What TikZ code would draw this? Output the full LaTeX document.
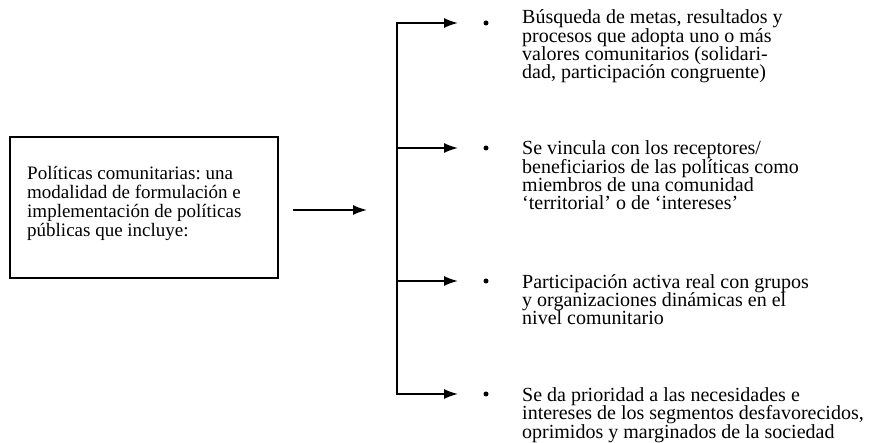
\documentclass[tikz,border=0pt]{standalone}
\usepackage{fontspec}
\setmainfont{Liberation Serif}
\usetikzlibrary{arrows.meta}
\begin{document}
\frenchspacing
\begin{tikzpicture}[x=1pt,y=-1pt,
  txt/.style={font=\fontsize{20}{18.4}\selectfont\frenchspacing, inner sep=0pt, align=left, anchor=base west},
  boxtxt/.style={font=\fontsize{19}{19}\selectfont\frenchspacing, inner sep=0pt, align=left, anchor=base west},
  conn/.style={line width=1.6pt, -{Latex[length=14pt,width=10pt]}},
  trunk/.style={line width=1.6pt},
  dot/.style={circle, fill=black, inner sep=0pt, minimum size=5pt},
  mainbox/.style={draw, line width=1.4pt, minimum width=268pt, minimum height=141pt, inner sep=0pt}]
\useasboundingbox (0,0) rectangle (870,443);
\node[mainbox] (box) at (144,207.5) {};
\node[boxtxt] (boxt) at (27,237) {Políticas comunitarias: una\\modalidad de formulación e\\implementación de políticas\\públicas que incluye:};
\coordinate (s0) at (293,210);
\coordinate (e0) at (367,210);
\draw[conn] (s0) -- (e0);
\coordinate (t1) at (397,23);
\coordinate (t2) at (397,148);
\coordinate (t3) at (397,281);
\coordinate (t4) at (397,394);
\draw[trunk] (t1) -- (t4);
\foreach \i/\y in {1/23,2/148,3/281,4/394}{
  \coordinate (h\i) at (458,\y);
  \draw[conn] ([xshift=-0.8pt]t\i) -- (h\i);
  \node[dot] (b\i) at (486,\y) {};
}
\node[txt] (x1) at (522,79) {Búsqueda de metas, resultados y\\procesos que adopta uno o más\\valores comunitarios (solidari-\\dad, participación congruente)};
\node[txt] (x2) at (522,210) {Se vincula con los receptores/\\beneficiarios de las políticas como\\miembros de una comunidad\\‘territorial’ o de ‘intereses’};
\node[txt] (x3) at (522,325) {Participación activa real con grupos\\y organizaciones dinámicas en el\\nivel comunitario};
\node[txt] (x4) at (522,438.3) {Se da prioridad a las necesidades e\\intereses de los segmentos desfavorecidos,\\oprimidos y marginados de la sociedad};
\end{tikzpicture}
\end{document}
